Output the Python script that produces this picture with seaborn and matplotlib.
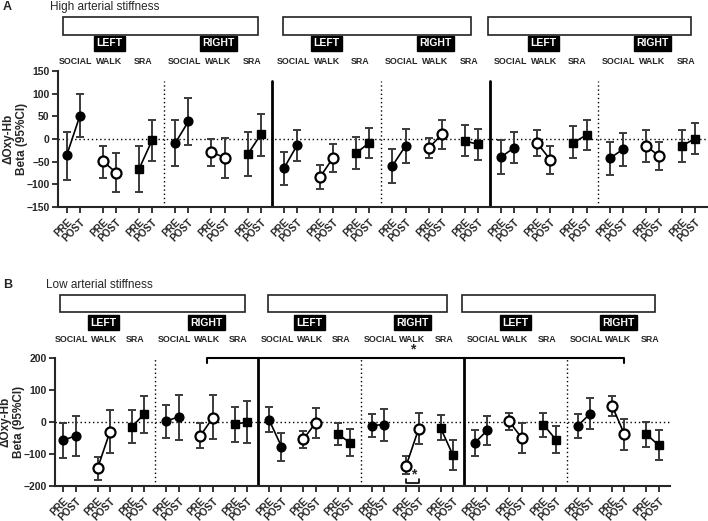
import pandas as pd
import matplotlib.pyplot as plt
import seaborn as sns
from matplotlib.patches import Rectangle
from matplotlib.lines import Line2D
from matplotlib.transforms import blended_transform_factory

tasks = ['1-back', '2-back', '3-back']
sides = ['LEFT', 'RIGHT']
conditions = ['SOCIAL', 'WALK', 'SRA']
times = ['PRE', 'POST']

# High arterial stiffness (panel A), one value per task/side/condition group
high_pre_mean = [-36, -49, -66, -9, -29, -34, -65, -84, -31, -59, -20, -4, -40, -9, -8, -43, -15, -15]
high_pre_lo = [-90, -85, -116, -60, -59, -81, -101, -111, -66, -96, -43, -38, -78, -37, -43, -80, -50, -50]
high_pre_hi = [15, -15, -16, 43, 1, 15, -28, -57, 4, -23, 2, 30, -3, 19, 28, -6, 19, 19]
high_post_mean = [51, -74, -2, 39, -41, 10, -14, -41, -8, -15, 10, -12, -19, -46, 9, -23, -37, 1]
high_post_lo = [4, -116, -49, -13, -86, -37, -49, -72, -41, -52, -21, -46, -54, -77, -25, -60, -69, -33]
high_post_hi = [99, -31, 43, 91, 3, 56, 19, -11, 24, 22, 42, 22, 16, -15, 43, 14, -6, 35]

# Low arterial stiffness (panel B)
low_pre_mean = [-57, -145, -15, 3, -43, -7, 7, -54, -37, -11, -136, -18, -65, 2, -8, -12, 51, -38]
low_pre_lo = [-112, -180, -67, -50, -82, -62, -32, -82, -73, -48, -163, -56, -105, -25, -46, -51, 19, -77]
low_pre_hi = [-3, -110, 38, 54, -4, 47, 46, -27, -2, 25, -107, 21, -24, 28, 27, 25, 81, 0]
low_post_mean = [-43, -30, 25, 16, 14, 0, -77, -2, -65, -8, -21, -104, -26, -49, -55, 26, -39, -73]
low_post_lo = [-106, -97, -33, -55, -54, -65, -121, -49, -106, -58, -68, -150, -71, -97, -97, -23, -88, -118]
low_post_hi = [18, 38, 82, 85, 83, 65, -33, 45, -23, 42, 27, -56, 19, -2, -14, 75, 10, -24]

W, H = 708, 521
GAP = 2.75


def fy(py):
    return 1 - py / H


def build_frame(pre_m, pre_lo, pre_hi, post_m, post_lo, post_hi):
    rows = []
    g = 0
    for t in tasks:
        for s in sides:
            for c in conditions:
                vals = [(pre_m[g], pre_lo[g], pre_hi[g]), (post_m[g], post_lo[g], post_hi[g])]
                for k, (m, lo, hi) in enumerate(vals):
                    rows.append(dict(group=g, task=t, side=s, cond=c, time=times[k],
                                     x=g * GAP + k, mean=m, lo=lo, hi=hi))
                g += 1
    return pd.DataFrame(rows)


marker_style = {
    'SOCIAL': dict(marker='o', markersize=6.3, markerfacecolor='black', markeredgewidth=1.0),
    'WALK': dict(marker='o', markersize=7.2, markerfacecolor='white', markeredgewidth=1.6),
    'SRA': dict(marker='s', markersize=6.0, markerfacecolor='black', markeredgewidth=1.0),
}


def draw_panel(fig, rect, df, ylim, yticks, div_top, letter, title, ypos):
    ax = fig.add_axes(rect)
    ax.errorbar(df['x'], df['mean'], yerr=[df['mean'] - df['lo'], df['hi'] - df['mean']],
                fmt='none', ecolor='#3a3a3a', elinewidth=1.4, capsize=2.8, capthick=1.4, zorder=2)
    for cond in conditions:
        sub = df[df['cond'] == cond]
        sns.lineplot(data=sub, x='x', y='mean', units='group', estimator=None, color='black',
                     lw=1.2, markeredgecolor='black', ax=ax, zorder=3, legend=False,
                     **marker_style[cond])

    ax.axhline(0, ls=(0, (1, 2)), color='black', lw=1.0, zorder=1)
    # dotted between hemispheres, solid between tasks
    for k in range(5):
        xb = (2 + 3 * k) * GAP + 1.875
        if k % 2 == 0:
            ax.axvline(xb, ymax=div_top, ls=(0, (1, 2)), color='black', lw=1.0, zorder=1)
        else:
            ax.axvline(xb, ymax=div_top, color='black', lw=2.0, zorder=1)

    ax.set_ylim(*ylim)
    ax.set_yticks(yticks)
    ax.set_xlim(-0.66, 48.65)
    ax.set_xticks(df['x'])
    ax.set_xticklabels(df['time'], rotation=45, ha='right', rotation_mode='anchor',
                       fontweight='bold', fontsize=7.2)
    for lab in ax.get_yticklabels():
        lab.set_fontweight('bold')
        lab.set_fontsize(7.5)
    ax.tick_params(axis='both', direction='out', length=4, width=1.3, pad=2)
    ax.tick_params(axis='x', pad=3)
    ax.set_xlabel('')
    ax.set_ylabel('\u0394Oxy-Hb\nBeta (95%CI)', fontsize=8.5, fontweight='bold', labelpad=-1,
                  linespacing=1.1)
    sns.despine(ax=ax)
    for sp in ['left', 'bottom']:
        ax.spines[sp].set_linewidth(1.5)

    trans = blended_transform_factory(ax.transData, fig.transFigure)
    box_top, box_bot, side_y, cond_y, title_y = ypos
    spans = [(-0.25, 14.55), (16.45, 30.75), (32.0, 47.45)]
    for t, (x0, x1) in zip(tasks, spans):
        fig.add_artist(Rectangle((x0, fy(box_bot)), x1 - x0, (box_bot - box_top) / H,
                                 transform=trans, fc='white', ec='#222222', lw=1.2))
        ax.text((x0 + x1) / 2, fy((box_top + box_bot) / 2), t, transform=trans,
                ha='center', va='center', fontsize=8, clip_on=False)
    g = 0
    for t in tasks:
        for s in sides:
            xc = (g + 1) * GAP + 0.5
            ax.text(xc, fy(side_y), s, transform=trans, ha='center', va='center', color='white',
                    fontsize=7.5, fontweight='bold', clip_on=False,
                    bbox=dict(boxstyle='square,pad=0.22', fc='black', ec='black'))
            for j, c in enumerate(conditions):
                ax.text(xc + (j - 1) * 2.55, fy(cond_y), c, transform=trans, ha='center',
                        va='center', fontsize=6.4, fontweight='bold', clip_on=False)
            g += 3
    fig.text(3 / W, fy(title_y), letter, fontsize=9, fontweight='bold', va='center')
    fig.text((50 if letter == 'A' else 46) / W, fy(title_y), title, fontsize=8.5, va='center')
    return ax


sns.set_style('ticks')
plt.rcParams['font.family'] = ['Liberation Sans', 'DejaVu Sans']

fig = plt.figure(figsize=(W / 100, H / 100), dpi=100)

df_high = build_frame(high_pre_mean, high_pre_lo, high_pre_hi,
                      high_post_mean, high_post_lo, high_post_hi)
df_low = build_frame(low_pre_mean, low_pre_lo, low_pre_hi,
                     low_post_mean, low_post_lo, low_post_hi)

draw_panel(fig, [58 / W, fy(207), 649 / W, 136 / H], df_high, (-150, 150),
           [-150, -100, -50, 0, 50, 100, 150], 0.923, 'A', 'High arterial stiffness',
           (17, 35, 43.5, 62, 7))
axb = draw_panel(fig, [55 / W, fy(486), 615 / W, 128 / H], df_low, (-200, 200),
                 [-200, -100, 0, 100, 200], 1.0, 'B', 'Low arterial stiffness',
                 (295, 312, 322.5, 339, 285))

# significance brackets in panel B
xl = 4 * GAP + 0.5
xr = 16 * GAP + 1
axb.add_line(Line2D([xl, xl, xr, xr], [184, 201, 201, 184], color='black', lw=1.5, clip_on=False))
axb.text(10 * GAP + 0.5, 228, '*', ha='center', va='center', fontsize=10, fontweight='bold')
xp, xq = 10 * GAP, 10 * GAP + 1
axb.add_line(Line2D([xp, xp, xq, xq], [-178, -191, -191, -178], color='black', lw=1.2, clip_on=False))
axb.text(10 * GAP + 0.6, -163, '*', ha='center', va='center', fontsize=10, fontweight='bold')

fig.savefig('out.png', dpi=100)
